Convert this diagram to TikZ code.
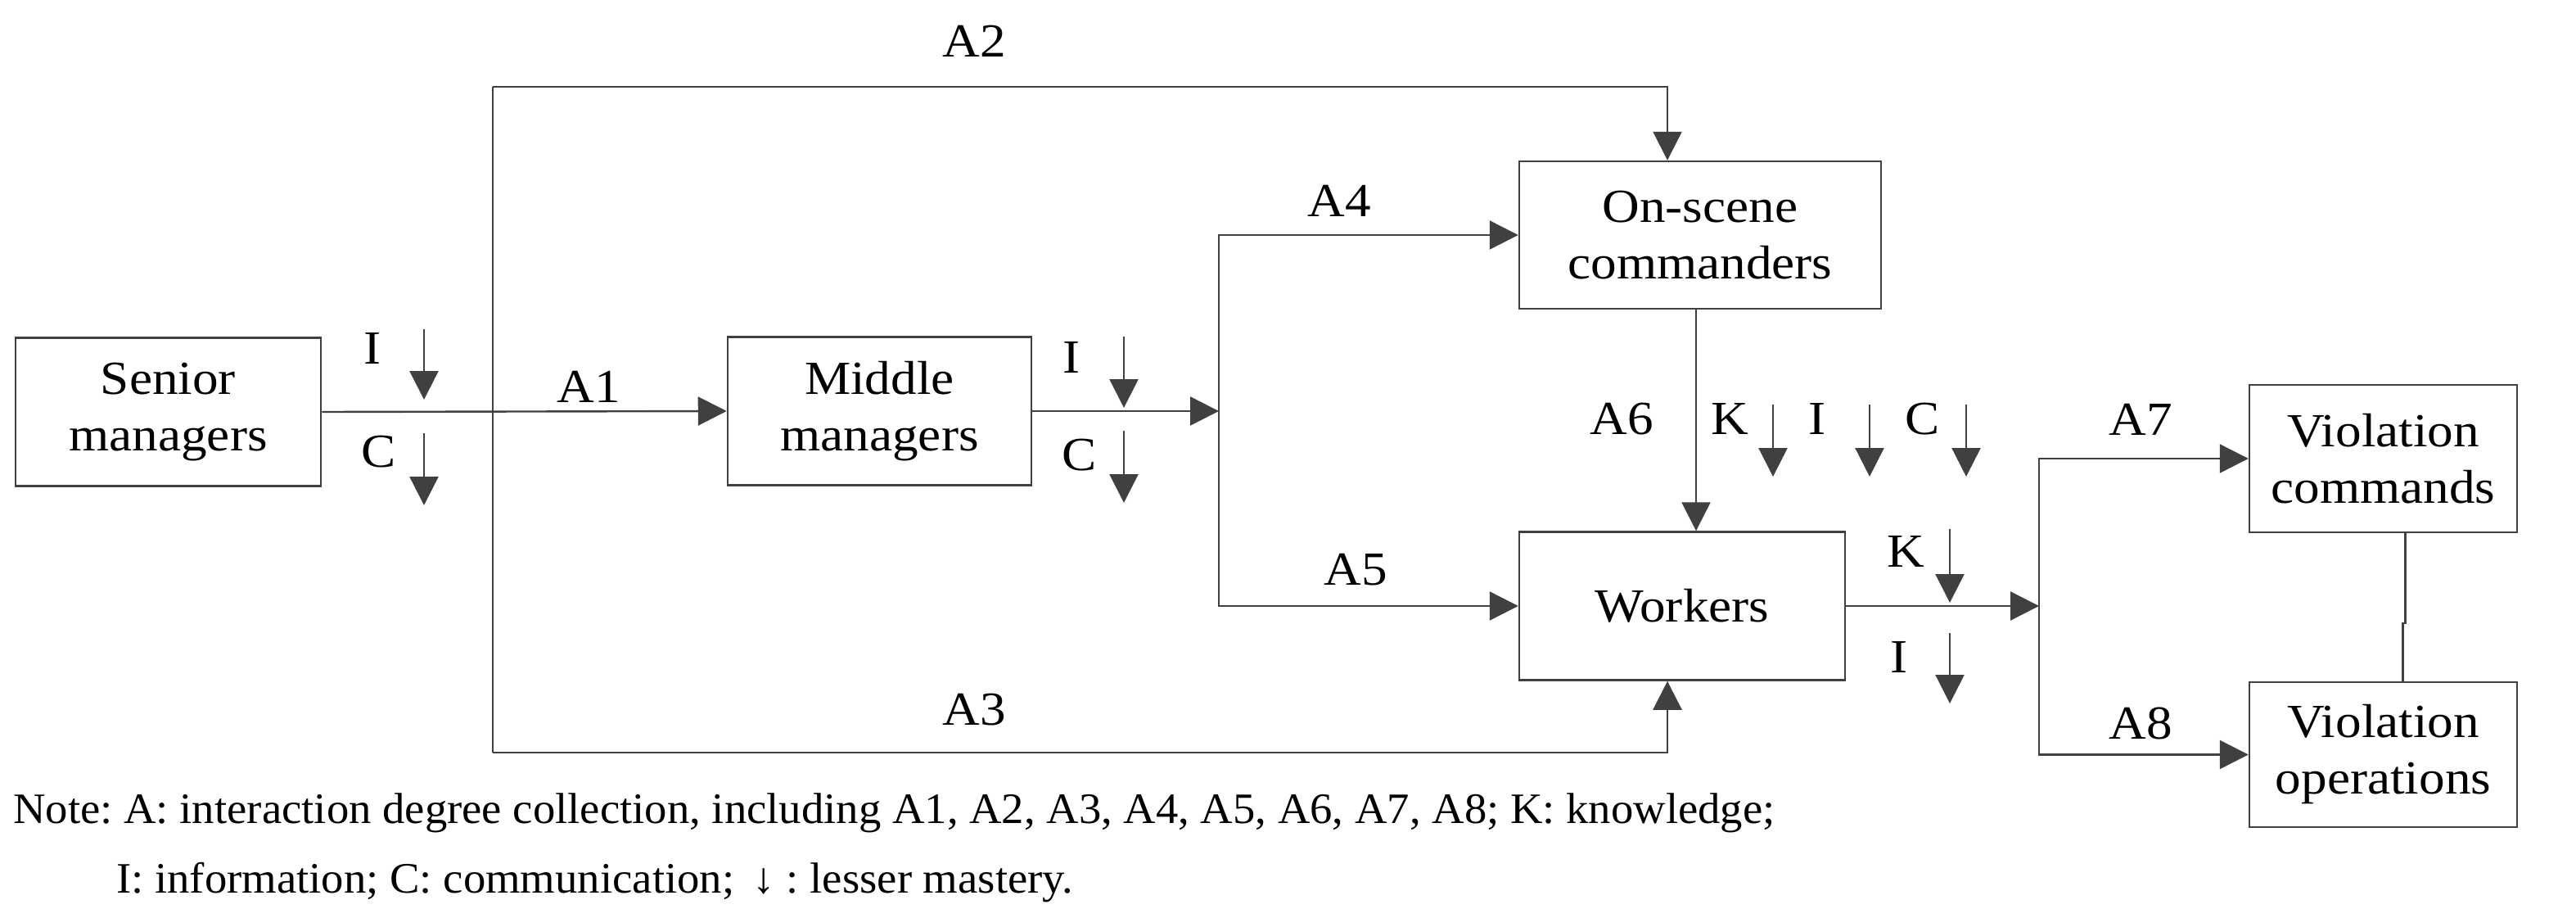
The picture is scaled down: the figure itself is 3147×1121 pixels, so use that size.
\documentclass[tikz,border=0pt]{standalone}
\usepackage{fontspec}
\setmainfont{Liberation Serif}[FakeStretch=1.09]
\newfontfamily\notefont{Liberation Serif}[FakeStretch=1.032]
\usetikzlibrary{arrows.meta}
\definecolor{ln}{HTML}{404040}
\begin{document}
\begin{tikzpicture}[x=1pt,y=-1pt,
  font=\fontsize{58}{69}\selectfont,
  box/.style={draw=ln, line width=2.5pt, minimum height=181pt, inner sep=0pt, align=center},
  conn/.style={draw=ln, line width=2.4pt},
  arr/.style={conn, -{Triangle[length=35pt,width=35pt]}},
  lbl/.style={inner sep=0pt},
  notetext/.style={inner sep=0pt, anchor=base west, font=\notefont\fontsize{53}{64}\selectfont\frenchspacing},
]
\useasboundingbox (0,0) rectangle (3147,1121);

% boxes
\node[box, minimum width=373pt] (sen) at (205.5,503) {Senior\\managers};
\node[box, minimum width=371pt] (mid) at (1074.5,502) {Middle\\managers};
\node[box, minimum width=442pt, minimum height=180pt] (on) at (2077,287) {On-scene\\commanders};
\node[box, minimum width=398pt] (wk) at (2055,740) {Workers};
\node[box, minimum width=327pt, minimum height=180pt] (vc) at (2911.5,560) {Violation\\commands};
\node[box, minimum width=327pt, minimum height=177pt] (vo) at (2911.5,921.5) {Violation\\operations};

% junction coordinates
\coordinate (tl) at (602,106);
\coordinate (bl) at (602,919);
\coordinate (m1) at (1489,502);
\coordinate (w1) at (2491,740);

% connectors
\draw[arr] (sen.east) -- (mid.west);
\draw[arr] (tl) -| ([xshift=-40pt]on.north);
\draw[conn] (tl) -- (bl);
\draw[arr] (bl) -| ([xshift=-18pt]wk.south);
\draw[arr] (mid.east) -- (m1);
\draw[arr] (m1) |- (on.west);
\draw[arr] (m1) |- (wk.west);
\draw[arr] ([xshift=-5pt]on.south) -- ([xshift=-5pt]on.south |- wk.north);
\draw[arr] (wk.east) -- (w1);
\draw[arr] (w1) |- (vc.west);
\draw[arr] (w1) |- (vo.west);
\draw[conn] ([xshift=27pt]vc.south) -- ++(0,110) -- ++(-3,0) -- ([xshift=24pt]vo.north);

% connector labels
\node[lbl] (la2) at (1190,50) {A2};
\node[lbl] (la1) at (719,472) {A1};
\node[lbl] (la3) at (1190,867) {A3};
\node[lbl] (la4) at (1636,245) {A4};
\node[lbl] (la5) at (1656,696) {A5};
\node[lbl] (la6) at (1981,512) {A6};
\node[lbl] (la7) at (2615,512) {A7};
\node[lbl] (la8) at (2615,883) {A8};

% lesser mastery marks: senior -> middle
\node[lbl] (si) at (455,426) {I};
\draw[arr] (518,402) -- (518,488);
\node[lbl] (sc) at (463,552) {C};
\draw[arr] (518,529) -- (518,617);
% middle -> split
\node[lbl] (mi) at (1309,437) {I};
\draw[arr] (1373,411) -- (1373,498);
\node[lbl] (mc) at (1319,556) {C};
\draw[arr] (1373,526) -- (1373,614);
% on-scene -> workers
\node[lbl] (ok) at (2113,512) {K};
\draw[arr] (2166,494) -- (2166,582);
\node[lbl] (oi) at (2220,512) {I};
\draw[arr] (2284,494) -- (2284,582);
\node[lbl] (oc) at (2349,512) {C};
\draw[arr] (2402,494) -- (2402,582);
% workers -> split
\node[lbl] (wkk) at (2328,674) {K};
\draw[arr] (2382,646) -- (2382,736);
\node[lbl] (wki) at (2320,803) {I};
\draw[arr] (2382,773) -- (2382,859);

% note
\node[notetext] (note1) at (16,1005) {Note: A: interaction degree collection, including A1, A2, A3, A4, A5, A6, A7, A8; K: knowledge;};
\node[notetext] (note2) at (142,1090) {I: information; C: communication; \,↓ : lesser mastery.};
\end{tikzpicture}
\end{document}
